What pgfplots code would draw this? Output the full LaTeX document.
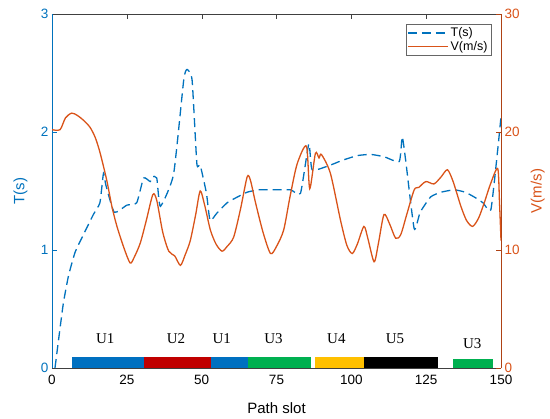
\documentclass[border=0pt]{standalone}
\usepackage{fontspec}
\setmainfont{Liberation Sans}
\newfontfamily\timesf{Liberation Serif}
\usepackage{pgfplots}
\pgfplotsset{compat=1.18}

\definecolor{mblue}{RGB}{0,114,189}
\definecolor{morange}{RGB}{217,83,25}
\definecolor{ublue}{RGB}{0,112,192}
\definecolor{ured}{RGB}{192,0,0}
\definecolor{ugreen}{RGB}{0,176,80}
\definecolor{uyellow}{RGB}{255,192,0}

\tikzset{
  tstyle/.style={mblue, line width=1.3pt, dash pattern=on 9pt off 5pt},
  vstyle/.style={morange, line width=1.3pt},
  ulabel/.style={font=\timesf\fontsize{15}{17}\selectfont},
}

\begin{document}
\begin{tikzpicture}
\begin{axis}[
  name=left,
  scale only axis, width=449pt, height=354pt,
  xmin=0, xmax=150, ymin=0, ymax=3,
  xtick={0,25,...,150}, ytick={0,1,2,3},
  axis y line*=left,
  tick align=inside, major tick length=5pt,
  /pgf/number format/assume math mode=true,
  tick label style={font=\fontsize{13.5}{15}\selectfont},
  xticklabel style={yshift=-4pt},
  x axis line style={black!75}, xtick style={black!75},
  y axis line style={mblue}, ytick style={mblue},
  yticklabel style={text=mblue},
  xlabel={Path slot}, ylabel={T(s)},
  label style={font=\fontsize{15}{17}\selectfont},
  xlabel style={at={(axis description cs:0.5,-0.113)}, anchor=center},
  ylabel style={at={(axis description cs:-0.07,0.5)}, anchor=center, text=mblue},
]
% unit bars along the path
\addplot[fill=ublue, draw=none] coordinates {(6.7,0.09)(30.7,0.09)} \closedcycle;
\addplot[fill=ured, draw=none] coordinates {(30.7,0.09)(53.0,0.09)} \closedcycle;
\addplot[fill=ublue, draw=none] coordinates {(53.0,0.09)(65.6,0.09)} \closedcycle;
\addplot[fill=ugreen, draw=none] coordinates {(65.6,0.09)(86.4,0.09)} \closedcycle;
\addplot[fill=uyellow, draw=none] coordinates {(87.8,0.09)(104.2,0.09)} \closedcycle;
\addplot[fill=black, draw=none] coordinates {(104.2,0.09)(128.9,0.09)} \closedcycle;
\addplot[fill=ugreen, draw=none] coordinates {(133.8,0.075)(147.3,0.075)} \closedcycle;
\node[ulabel] at (axis cs:17.8,0.245) {U1};
\node[ulabel] at (axis cs:41.4,0.245) {U2};
\node[ulabel] at (axis cs:56.7,0.245) {U1};
\node[ulabel] at (axis cs:74,0.245) {U3};
\node[ulabel] at (axis cs:95,0.25) {U4};
\node[ulabel] at (axis cs:114.6,0.25) {U5};
\node[ulabel] at (axis cs:140.4,0.21) {U3};
% T
\addplot[tstyle, smooth, tension=0.3] coordinates {
  (1,0)(2.5,0.3)(3.8,0.55)(5.5,0.78)(7.7,0.98)(10.5,1.13)(13.8,1.30)(16,1.40)
  (17.2,1.65)(18,1.55)(20.8,1.32)(25,1.38)(28.3,1.40)(30.6,1.61)(32.8,1.58)
  (33.5,1.62)(35,1.61)(36.2,1.37)(40.6,1.64)(44,2.44)(45.1,2.53)(46.8,2.44)
  (48.4,1.73)(49.5,1.72)(51.6,1.48)(52.8,1.25)(55,1.31)(58.5,1.40)(62,1.45)
  (65.2,1.49)(69,1.51)(73,1.51)(79.7,1.51)(83,1.48)(85.8,1.90)(86.9,1.68)
  (92,1.71)(97,1.76)(102,1.80)(106.5,1.81)(111,1.79)(116,1.75)(117,1.96)
  (118.2,1.75)(121,1.18)(123,1.32)(126.5,1.45)(130,1.49)(134.4,1.51)
  (138,1.49)(141,1.45)(144,1.40)(146.6,1.34)(148.9,1.85)(150,2.13)};
\end{axis}
\begin{axis}[
  scale only axis, width=449pt, height=354pt,
  xmin=0, xmax=150, ymin=0, ymax=30,
  axis x line=none, axis y line*=right,
  ytick={0,10,20,30},
  tick align=inside, major tick length=5pt,
  /pgf/number format/assume math mode=true,
  tick label style={font=\fontsize{13.5}{15}\selectfont},
  y axis line style={morange!80!black}, ytick style={morange!80!black},
  yticklabel style={text=morange},
  ylabel={V(m/s)},
  label style={font=\fontsize{15}{17}\selectfont},
  ylabel style={at={(axis description cs:1.082,0.5)}, anchor=center, rotate=0, text=morange},
  legend style={at={(axis description cs:0.978,0.972)}, anchor=north east,
    draw=black!60, font=\fontsize{12.5}{14}\selectfont, inner sep=1.5pt,
    row sep=-1pt, cells={anchor=west}},
  legend image code/.code={\draw[#1] (0pt,0pt) -- (40pt,0pt);},
]
\addlegendimage{tstyle}
\addlegendentry{T(s)}
\addplot[vstyle, smooth, tension=0.45] coordinates {
  (0,20.2)(2.7,20.2)(4.5,21.2)(6.6,21.6)(8.5,21.4)(10.5,21.0)(12.7,20.4)
  (14.5,19.5)(16.1,18.2)(18.3,15.9)(20,13.7)(21.7,12.0)(24,10.2)(26.1,8.9)
  (27.5,9.4)(29.5,10.6)(31.5,12.5)(33.7,14.7)(35,14.2)(37,11.5)(39,9.9)
  (41,9.5)(42.9,8.7)(44.5,9.6)(46.2,10.8)(48,13)(49.5,15.0)(51,13.8)
  (52.9,11.7)(54.8,10.5)(56.8,9.9)(58.5,10.3)(60.7,11.1)(63,13.5)(65.2,16.2)
  (66.3,15.9)(68,14)(70.5,11.5)(73,9.7)(75,10.3)(77.4,11.7)(79.5,14.5)
  (81.9,17.3)(85,18.8)(86.1,15.2)(88,18.2)(89.2,17.8)(90,18.1)(93,16.5)
  (96.4,12.5)(98.5,10.4)(100.3,9.7)(102,10.5)(104.2,12.0)(105.5,11)
  (107.6,9.0)(109,10.5)(110.9,13.0)(112.8,12.2)(114.8,11.0)(116.5,11.3)
  (118.5,13)(121,15.1)(122.5,15.3)(124.9,15.8)(127.6,15.6)(130,16.2)
  (132.1,16.8)(134,15.8)(136.6,13.7)(138.5,12.5)(140.5,12.0)(142.5,12.7)
  (144.4,14.0)(146.5,15.6)(148.9,16.9)(149.5,14)(150,10.8)};
\addlegendentry{V(m/s)}
\end{axis}
\pgfresetboundingbox
\path[use as bounding box] ([xshift=-52pt,yshift=-50pt]left.south west)
  rectangle ([xshift=49pt,yshift=14pt]left.north east);
\end{tikzpicture}
\end{document}
